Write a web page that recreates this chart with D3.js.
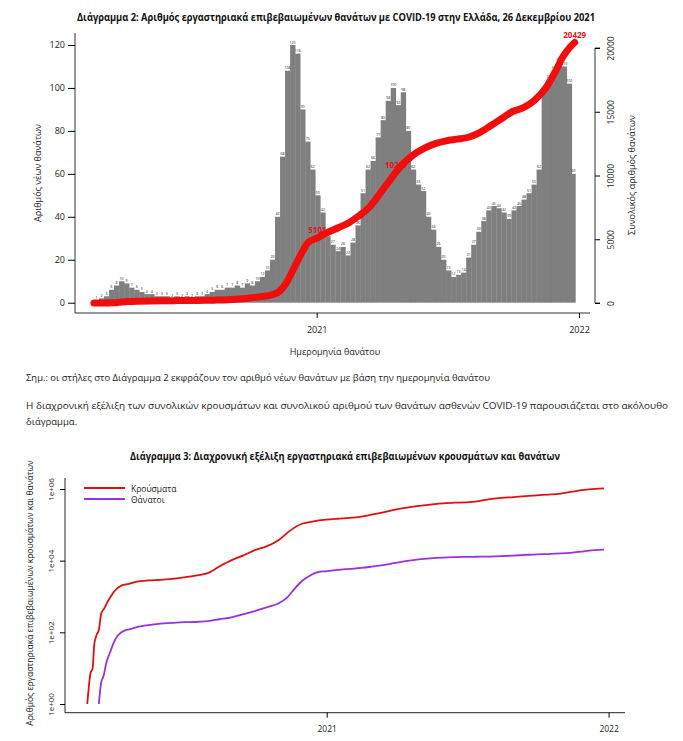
<!DOCTYPE html>
<html>
<head>
<meta charset="utf-8">
<script src="https://cdn.jsdelivr.net/npm/d3@7"></script>
<style>
  body { margin: 0; background: #fff; }
  svg { display: block; font-family: "Open Sans", "Noto Sans", sans-serif; }
</style>
</head>
<body>
<script>
// Chart 2: new deaths per week of death (grey bars), weeks start on this day
const weekStart = "2020-02-26";
const lastDay = "2021-12-26";
const weeklyDeaths = [
  1, 2, 3, 6, 8, 10, 9, 7, 6, 5, 4, 4, 3, 3, 3, 2, 3, 2, 3, 2,
  3, 3, 4, 5, 6, 6, 7, 7, 8, 7, 9, 8, 10, 12, 15, 20, 40, 68, 108, 120,
  116, 90, 75, 62, 50, 42, 31, 27, 24, 26, 22, 28, 36, 51, 62, 66, 77, 85, 94, 100,
  92, 98, 80, 62, 55, 52, 40, 34, 26, 20, 15, 12, 13, 14, 21, 27, 33, 38, 43, 45,
  44, 42, 39, 43, 45, 48, 51, 55, 62, 99, 104, 108, 112, 110, 102, 60
];

// cumulative deaths (red line on chart 2, purple line on chart 3)
const cumDeaths = [
  ["2020-02-26", 0], ["2020-03-11", 0], ["2020-03-12", 1], ["2020-03-15", 4],
  ["2020-03-18", 6], ["2020-03-22", 15], ["2020-03-26", 26], ["2020-03-31", 50],
  ["2020-04-05", 79], ["2020-04-10", 100], ["2020-04-15", 114], ["2020-04-20", 121],
  ["2020-04-30", 140], ["2020-05-15", 160], ["2020-05-31", 175], ["2020-06-15", 183],
  ["2020-06-30", 192], ["2020-07-15", 194], ["2020-07-31", 206], ["2020-08-15", 232],
  ["2020-08-31", 263], ["2020-09-15", 320], ["2020-09-30", 393], ["2020-10-15", 500],
  ["2020-10-31", 650], ["2020-11-10", 900], ["2020-11-20", 1600], ["2020-11-30", 2700],
  ["2020-12-10", 3800], ["2020-12-20", 4750], ["2021-01-02", 5101], ["2021-01-15", 5500],
  ["2021-01-31", 5900], ["2021-02-15", 6300], ["2021-02-28", 6800], ["2021-03-15", 7500],
  ["2021-03-31", 8650], ["2021-04-15", 9800], ["2021-04-30", 10850], ["2021-05-15", 11600],
  ["2021-05-31", 12150], ["2021-06-15", 12500], ["2021-06-30", 12720],
  ["2021-07-15", 12850], ["2021-07-31", 13000], ["2021-08-15", 13350], ["2021-08-31", 13900],
  ["2021-09-15", 14450], ["2021-09-30", 15000], ["2021-10-15", 15300], ["2021-10-31", 15900],
  ["2021-11-15", 16800], ["2021-11-30", 18250], ["2021-12-10", 19350], ["2021-12-20", 20100],
  ["2021-12-26", 20429]
];

// labelled points on the cumulative line
const totalLabels = [["2021-01-02", 5101], ["2021-04-22", 10227], ["2021-12-26", 20429]];

// Chart 3: cumulative cases
const cumCases = [
  ["2020-02-26", 1], ["2020-02-28", 3], ["2020-03-01", 7], ["2020-03-04", 10],
  ["2020-03-06", 45], ["2020-03-09", 84], ["2020-03-12", 117], ["2020-03-15", 331],
  ["2020-03-19", 464], ["2020-03-23", 695], ["2020-03-27", 966], ["2020-03-31", 1314],
  ["2020-04-10", 2011], ["2020-04-20", 2245], ["2020-04-30", 2591], ["2020-05-15", 2819],
  ["2020-05-31", 2917], ["2020-06-15", 3121], ["2020-06-30", 3432], ["2020-07-15", 3826],
  ["2020-07-31", 4477], ["2020-08-15", 6858], ["2020-08-31", 10317], ["2020-09-15", 14000],
  ["2020-09-30", 19613], ["2020-10-15", 25000], ["2020-10-31", 38000], ["2020-11-15", 70000],
  ["2020-11-30", 107000], ["2020-12-15", 125000], ["2020-12-31", 139000], ["2021-01-15", 148000],
  ["2021-01-31", 156000], ["2021-02-15", 170000], ["2021-02-28", 192000], ["2021-03-15", 222000],
  ["2021-03-31", 266000], ["2021-04-15", 302000], ["2021-04-30", 336000], ["2021-05-15", 364000],
  ["2021-05-31", 398000], ["2021-06-15", 414000], ["2021-06-30", 424000], ["2021-07-15", 451000],
  ["2021-07-31", 524000], ["2021-08-15", 564000], ["2021-08-31", 597000], ["2021-09-15", 635000],
  ["2021-09-30", 668000], ["2021-10-15", 700000], ["2021-10-31", 747000], ["2021-11-15", 843000],
  ["2021-11-30", 940000], ["2021-12-15", 1005000], ["2021-12-26", 1040000]
];

const leftTicks = [0, 20, 40, 60, 80, 100, 120];
const rightTicks = [0, 5000, 10000, 15000, 20000];
const logTicks = [1, 1e2, 1e4, 1e6];
const logTickLabels = ["1e+00", "1e+02", "1e+04", "1e+06"];
const yearTicks = ["2021-01-01", "2022-01-01"];
const legendNames = ["Κρούσματα", "Θάνατοι"];

const parse = d3.timeParse("%Y-%m-%d");
const W = 683, H = 741;

const svg = d3.select("body").append("svg")
    .attr("width", W).attr("height", H);
svg.append("rect").attr("width", W).attr("height", H).attr("fill", "#fff");

function text(x, y, str, opts) {
    opts = opts || {};
    let t = svg.append("text")
        .attr("x", x).attr("y", y)
        .attr("font-size", opts.size || 9)
        .attr("fill", opts.fill || "#222")
        .attr("text-anchor", opts.anchor || "start")
        .attr("dominant-baseline", "central")
        .text(str);
    if (opts.bold) t.attr("font-weight", "bold");
    if (opts.len) t.attr("textLength", opts.len).attr("lengthAdjust", "spacingAndGlyphs");
    if (opts.rotate) {
        t.attr("x", 0).attr("y", 0)
         .attr("transform", "translate(" + x + "," + y + ") rotate(-90)");
    }
    return t;
}

/**
 * Chart 2 - bars + cumulative line
 */
const x2 = d3.scaleTime()
    .domain([parse("2021-01-01"), parse("2022-01-01")])
    .range([316.7, 579]);
const yL = d3.scaleLinear().domain([0, 120]).range([302.7, 45]);
const yR = d3.scaleLinear().domain([0, 20000]).range([303, 48]);

text(336, 17, "Διάγραμμα 2: Αριθμός εργαστηριακά επιβεβαιωμένων θανάτων με COVID-19 στην Ελλάδα, 26 Δεκεμβρίου 2021",
    {size: 10.5, bold: true, anchor: "middle", len: 518, fill: "#111"});

const start = parse(weekStart);
const end = d3.timeDay.offset(parse(lastDay), 1);
const bars = weeklyDeaths.map((v, k) => {
    let s = d3.timeDay.offset(start, 7 * k);
    let e = d3.timeDay.offset(s, 7);
    if (e > end) e = end;
    return {s: s, e: e, v: v};
});

const gBars = svg.append("g");
gBars.selectAll("rect")
    .data(bars)
    .enter().append("rect")
    .attr("x", d => x2(d.s))
    .attr("width", d => x2(d.e) - x2(d.s) + 0.3)
    .attr("y", d => yL(d.v))
    .attr("height", d => yL(0) - yL(d.v))
    .attr("fill", "#7f7f7f");

// tiny value labels above the bars
gBars.selectAll("text")
    .data(bars)
    .enter().append("text")
    .attr("x", d => (x2(d.s) + x2(d.e)) / 2)
    .attr("y", d => yL(d.v) - 1.5)
    .attr("text-anchor", "middle")
    .attr("font-size", 3.5)
    .attr("fill", "#111")
    .text(d => d.v);

// left axis (L shaped frame)
svg.append("path")
    .attr("d", "M75,33V313H590")
    .attr("fill", "none").attr("stroke", "#333").attr("stroke-width", 1);

const leftAxis = d3.axisLeft(yL).tickValues(leftTicks).tickSize(7).tickPadding(3);
svg.append("g").attr("transform", "translate(75,0)").call(leftAxis)
    .call(g => g.select(".domain").remove())
    .call(g => g.selectAll("text").attr("font-size", 9).attr("fill", "#222")
        .attr("font-family", "Open Sans, sans-serif"));

const bottomAxis = d3.axisBottom(x2).tickValues(yearTicks.map(parse))
    .tickSize(5).tickPadding(9).tickFormat(d3.timeFormat("%Y"));
svg.append("g").attr("transform", "translate(0,313)").call(bottomAxis)
    .call(g => g.select(".domain").remove())
    .call(g => g.selectAll("text").attr("font-size", 9).attr("fill", "#222")
        .attr("font-family", "Open Sans, sans-serif"));

const rightAxis = d3.axisRight(yR).tickValues(rightTicks).tickSize(5).tickFormat(d => d);
const gR = svg.append("g").attr("transform", "translate(595,0)").call(rightAxis);
gR.select(".domain").attr("d", "M5," + yR(0) + "H0V" + yR(20000) + "H5").attr("stroke", "#333");
gR.selectAll(".tick text")
    .attr("x", 0).attr("y", 0).attr("dy", 0)
    .attr("text-anchor", "middle").attr("dominant-baseline", "central")
    .attr("transform", "translate(15,0) rotate(-90)")
    .attr("font-size", 8.5).attr("fill", "#222")
    .attr("font-family", "Open Sans, sans-serif");

text(37, 173, "Αριθμός νέων θανάτων", {size: 9, rotate: true, anchor: "middle"});
text(631, 175, "Συνολικός αριθμός θανάτων", {size: 9, rotate: true, anchor: "middle"});
text(335, 351, "Ημερομηνία θανάτου", {size: 9, anchor: "middle"});

// labels under the cumulative line
svg.selectAll(".tot")
    .data(totalLabels)
    .enter().append("text")
    .attr("class", "tot")
    .attr("x", d => x2(parse(d[0])))
    .attr("y", d => yR(d[1]) - 8)
    .attr("text-anchor", "middle")
    .attr("dominant-baseline", "central")
    .attr("font-size", 8)
    .attr("font-weight", "bold")
    .attr("fill", "#e8101a")
    .text(d => d[1]);

const cumLine = d3.line()
    .x(d => x2(parse(d[0])))
    .y(d => yR(d[1]))
    .curve(d3.curveMonotoneX);

svg.append("path")
    .datum(cumDeaths)
    .attr("d", cumLine)
    .attr("fill", "none")
    .attr("stroke", "#f20d0d")
    .attr("stroke-width", 7)
    .attr("stroke-linecap", "round")
    .attr("stroke-linejoin", "round");

/**
 * Text between the charts
 */
text(26, 377, "Σημ.: οι στήλες στο Διάγραμμα 2 εκφράζουν τον αριθμό νέων θανάτων με βάση την ημερομηνία θανάτου",
    {size: 9.5, len: 464});
text(26, 405, "Η διαχρονική εξέλιξη των συνολικών κρουσμάτων και συνολικού αριθμού των θανάτων ασθενών COVID-19 παρουσιάζεται στο ακόλουθο",
    {size: 9.5, len: 642});
text(26, 421, "διάγραμμα.", {size: 9.5});

/**
 * Chart 3 - log scale cumulative cases & deaths
 */
text(345, 456, "Διάγραμμα 3: Διαχρονική εξέλιξη εργαστηριακά επιβεβαιωμένων κρουσμάτων και θανάτων",
    {size: 10.5, bold: true, anchor: "middle", len: 430, fill: "#111"});

const x3 = d3.scaleTime()
    .domain([parse("2021-01-01"), parse("2022-01-01")])
    .range([326.7, 608.6]);
const y3 = d3.scaleLog().domain([1, 1e6]).range([704, 489]);

svg.append("path")
    .attr("d", "M65,478V712.7H625")
    .attr("fill", "none").attr("stroke", "#222").attr("stroke-width", 1);

const logAxis = d3.axisLeft(y3).tickValues(logTicks).tickSize(5)
    .tickFormat((d, i) => logTickLabels[i]);
const gL = svg.append("g").attr("transform", "translate(65,0)").call(logAxis);
gL.select(".domain").remove();
gL.selectAll(".tick text")
    .attr("x", 0).attr("y", 0).attr("dy", 0)
    .attr("text-anchor", "middle").attr("dominant-baseline", "central")
    .attr("transform", "translate(-15,0) rotate(-90)")
    .attr("font-size", 8).attr("fill", "#222")
    .attr("font-family", "Open Sans, sans-serif");

const bottom3 = d3.axisBottom(x3).tickValues(yearTicks.map(parse))
    .tickSize(5).tickPadding(8).tickFormat(d3.timeFormat("%Y"));
svg.append("g").attr("transform", "translate(0,712.7)").call(bottom3)
    .call(g => g.select(".domain").remove())
    .call(g => g.selectAll("text").attr("font-size", 8.5).attr("fill", "#222")
        .attr("font-family", "Open Sans, sans-serif"));

text(29.5, 593, "Αριθμός εργαστηριακά επιβεβαιωμένων κρουσμάτων και θανάτων",
    {size: 8.5, rotate: true, anchor: "middle"});

const logLine = d3.line()
    .x(d => x3(parse(d[0])))
    .y(d => y3(d[1]))
    .curve(d3.curveMonotoneX);

svg.append("path")
    .datum(cumCases)
    .attr("d", logLine)
    .attr("fill", "none").attr("stroke", "#e01010").attr("stroke-width", 1.8);

svg.append("path")
    .datum(cumDeaths.filter(d => d[1] > 0))
    .attr("d", logLine)
    .attr("fill", "none").attr("stroke", "#9b30e0").attr("stroke-width", 1.8);

// legend
const legendColors = ["#e01010", "#9b30e0"];
legendNames.forEach((name, i) => {
    let y = 488 + i * 11;
    svg.append("line")
        .attr("x1", 84).attr("x2", 125).attr("y1", y).attr("y2", y)
        .attr("stroke", legendColors[i]).attr("stroke-width", 2.2);
    text(131, y, name, {size: 8.5});
});
</script>
</body>
</html>
